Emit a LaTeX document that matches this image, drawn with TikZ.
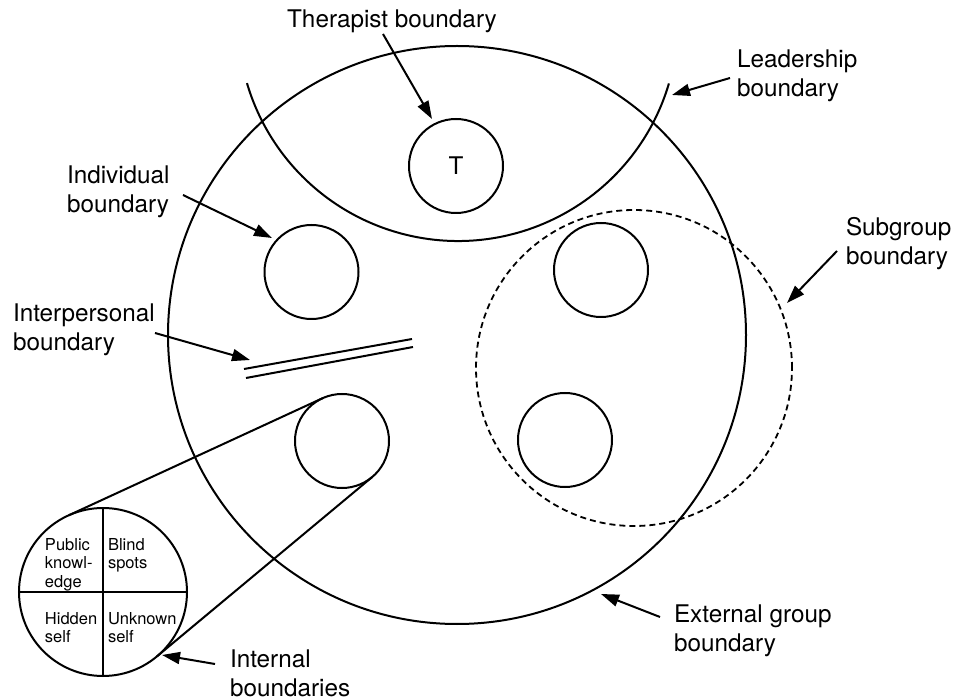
\documentclass[tikz,border=0pt]{standalone}
\usepackage{fontspec}
\setmainfont{TeX Gyre Heros}
\usetikzlibrary{arrows.meta}
\begin{document}
\begin{tikzpicture}[x=1pt,y=-1pt,
  bnd/.style={draw=black,line width=2pt,circle,inner sep=0pt,outer sep=0pt},
  lbl/.style={inner sep=0pt,outer sep=0pt,align=left,anchor=north west,font=\fontsize{24.3}{29}\selectfont},
  qlbl/.style={inner sep=0pt,outer sep=0pt,align=left,anchor=north west,font=\fontsize{16.5}{18.2}\selectfont},
  pointer/.style={line width=2pt,-{Triangle[length=18pt,width=12pt]}},
  thick line/.style={line width=2pt}]
\useasboundingbox (0,0) rectangle (954,700);

% external group boundary
\node[bnd,minimum size=578pt] (ext) at (457,335) {};
% subgroup boundary
\node[bnd,dashed,dash pattern=on 6pt off 4pt,line width=1.8pt,minimum size=316pt] (sub) at (634,368) {};
% leadership arc
\draw[thick line] ([shift={(16.5:220)}]458,21) arc[start angle=16.5,end angle=163.6,radius=220];

% members
\node[bnd,minimum size=94pt,font=\fontsize{24.3}{29}\selectfont] (ther) at (456,166) {T};
\node[bnd,minimum size=94pt] (indiv) at (311.5,272) {};
\node[bnd,minimum size=94pt] (mtr) at (601,270) {};
\node[bnd,minimum size=94pt] (mbr) at (565,440) {};
\node[bnd,minimum size=94pt] (mbl) at (342,441) {};

% interpersonal boundary
\draw[thick line] (244,369) -- (412,339);
\draw[thick line] (246,378) -- (413,347);

% internal boundaries (Johari window)
\node[bnd,minimum size=168pt] (joh) at (103,592) {};
\draw[thick line] (joh.north) -- (joh.south);
\draw[thick line] (joh.west) -- (joh.east);
\draw[thick line] (joh.114.8) -- (mbl.114.8);
\draw[thick line] (joh.-50.2) -- (mbl.-50.2);
\node[qlbl] (qpub) at (45,538.6) {Public\\knowl-\\edge};
\node[qlbl] (qbli) at (108,538.6) {Blind\\spots};
\node[qlbl] (qhid) at (45,612) {Hidden\\self};
\node[qlbl] (qunk) at (108,612) {Unknown\\self};

% labels
\node[lbl,anchor=base] (lther) at (392,27.5) {Therapist boundary};
\node[lbl] (llead) at (737,49.5) {Leadership\\boundary};
\node[lbl] (lind) at (67,165.8) {Individual\\boundary};
\node[lbl] (linter) at (13,303.5) {Interpersonal\\boundary};
\node[lbl] (lsub) at (846,217.5) {Subgroup\\boundary};
\node[lbl] (lext) at (674,604.5) {External group\\boundary};
\node[lbl] (lint) at (230,649.5) {Internal\\boundaries};

% arrow ends
\coordinate (tther1) at (383,34);   \coordinate (tther2) at (432,119);
\coordinate (tlead1) at (730,78);   \coordinate (tlead2) at (672,95);
\coordinate (tind1) at (183,195);   \coordinate (tind2) at (272,238);
\coordinate (tint1) at (155,333);   \coordinate (tint2) at (250,360);
\coordinate (tsub1) at (837,251);   \coordinate (tsub2) at (787,303);
\coordinate (text1) at (660,617);   \coordinate (text2) at (601,594);
\coordinate (tinb1) at (215,664);   \coordinate (tinb2) at (162,655);

\draw[pointer] (tther1) -- (tther2);
\draw[pointer] (tlead1) -- (tlead2);
\draw[pointer] (tind1) -- (tind2);
\draw[pointer] (tint1) -- (tint2);
\draw[pointer] (tsub1) -- (tsub2);
\draw[pointer] (text1) -- (text2);
\draw[pointer] (tinb1) -- (tinb2);
\end{tikzpicture}
\end{document}
